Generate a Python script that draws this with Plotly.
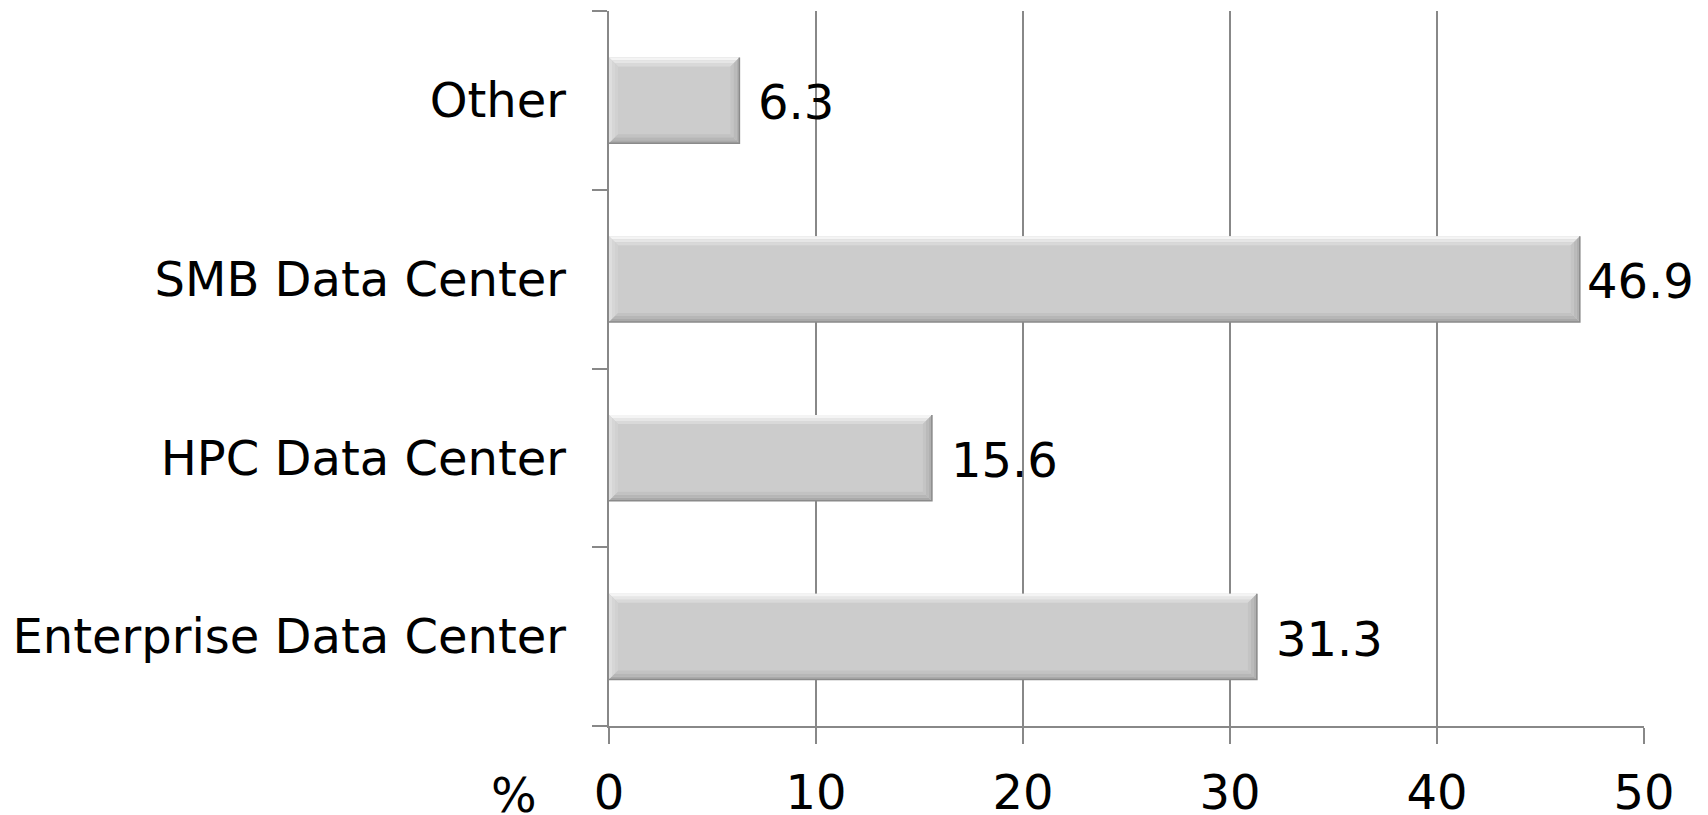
import plotly.graph_objects as go

# Data
categories = ["Enterprise Data Center", "HPC Data Center", "SMB Data Center", "Other"]
values = [31.3, 15.6, 46.9, 6.3]
x_ticks = [0, 10, 20, 30, 40, 50]

# Layout constants
W, H = 1708, 815
M_L, M_R, M_T, M_B = 609, 64, 11, 89
X_MAX = 50
BAR_W = 0.48
FONT = "DejaVu Sans, Verdana, sans-serif"
FSIZE = 48
GRID = "#888888"

plot_w = W - M_L - M_R
plot_h = H - M_T - M_B
px_x = plot_w / X_MAX            # pixels per x unit
px_y = plot_h / len(categories)  # pixels per category band

idx = list(range(len(categories)))

fig = go.Figure()
fig.add_trace(go.Bar(
    x=values, y=idx, orientation="h", width=BAR_W,
    marker=dict(color="#cccccc", line=dict(width=0)),
    hoverinfo="skip", showlegend=False,
))


def bevel_faces(x0, x1, y0, y1, d_out, d_in, cols):
    """Trapezoid band between an outer inset d_out and inner inset d_in (pixels)."""
    ox, oy = d_out / px_x, d_out / px_y
    ix, iy = d_in / px_x, d_in / px_y
    top, left, bottom, right = cols
    return [
        (f"M {x0+ox},{y1-oy} L {x1-ox},{y1-oy} L {x1-ix},{y1-iy} L {x0+ix},{y1-iy} Z", top),
        (f"M {x0+ox},{y0+oy} L {x0+ox},{y1-oy} L {x0+ix},{y1-iy} L {x0+ix},{y0+iy} Z", left),
        (f"M {x0+ox},{y0+oy} L {x1-ox},{y0+oy} L {x1-ix},{y0+iy} L {x0+ix},{y0+iy} Z", bottom),
        (f"M {x1-ox},{y0+oy} L {x1-ox},{y1-oy} L {x1-ix},{y1-iy} L {x1-ix},{y0+iy} Z", right),
    ]


# Bevelled edges for each bar, derived from its value and index
shapes = []
for i, v in zip(idx, values):
    y0, y1 = i - BAR_W / 2, i + BAR_W / 2
    x0, x1 = 0, v
    faces = (
        bevel_faces(x0, x1, y0, y1, 0, 3, ("#f4f4f4", "#dedede", "#a9a9a9", "#b0b0b0"))
        + bevel_faces(x0, x1, y0, y1, 3, 6, ("#e6e6e6", "#d6d6d6", "#b6b6b6", "#bababa"))
        + bevel_faces(x0, x1, y0, y1, 6, 9, ("#d9d9d9", "#d1d1d1", "#c2c2c2", "#c4c4c4"))
    )
    for path, col in faces:
        shapes.append(dict(type="path", path=path, xref="x", yref="y",
                           fillcolor=col, line=dict(width=0), layer="above"))
    # dark rim on the right and bottom sides
    shapes.append(dict(type="path", path=f"M {x0},{y0} L {x1},{y0} L {x1},{y1}",
                       xref="x", yref="y", line=dict(color="#8a8a8a", width=1.5),
                       layer="above"))

# Value labels at the end of each bar
annotations = []
for i, v in zip(idx, values):
    shift = 5 if v > 0.9 * X_MAX else 17
    annotations.append(dict(
        x=v, y=i, xref="x", yref="y", text=f"{v:.1f}", showarrow=False,
        xanchor="left", yanchor="middle", xshift=shift, yshift=-2,
        font=dict(family=FONT, size=FSIZE, color="#000000"),
    ))
# Unit label beside the x axis
annotations.append(dict(
    x=(514 - M_L) / plot_w, y=-(795 - (H - M_B)) / plot_h,
    xref="paper", yref="paper", text="%", showarrow=False,
    xanchor="center", yanchor="middle",
    font=dict(family=FONT, size=FSIZE, color="#000000"),
))

fig.update_layout(
    template="none",
    width=W, height=H,
    margin=dict(l=M_L, r=M_R, t=M_T, b=M_B, pad=0),
    paper_bgcolor="white", plot_bgcolor="white",
    font=dict(family=FONT, size=FSIZE, color="#000000"),
    shapes=shapes, annotations=annotations,
    xaxis=dict(
        range=[0, X_MAX], tickvals=x_ticks, ticktext=[str(t) for t in x_ticks],
        showgrid=True, gridcolor=GRID, gridwidth=2,
        showline=True, linecolor=GRID, linewidth=2,
        ticks="outside", ticklen=16, tickwidth=2, tickcolor=GRID,
        ticklabelstandoff=7, zeroline=False, fixedrange=True, automargin=False,
    ),
    yaxis=dict(
        range=[-0.5, len(categories) - 0.5],
        tickvals=[i - 0.5 for i in range(len(categories) + 1)],
        ticktext=[""] * (len(categories) + 1),
        showgrid=False, zeroline=False,
        showline=True, linecolor=GRID, linewidth=2,
        ticks="outside", ticklen=15, tickwidth=2, tickcolor=GRID,
        fixedrange=True, automargin=False,
    ),
    yaxis2=dict(
        overlaying="y", side="left", anchor="x",
        range=[-0.5, len(categories) - 0.5],
        tickvals=idx, ticktext=categories,
        showgrid=False, zeroline=False, showline=False, ticks="",
        ticklabelstandoff=42, fixedrange=True, automargin=False,
        tickfont=dict(family=FONT, size=FSIZE, color="#000000"),
    ),
)

# invisible trace so the label axis is drawn
fig.add_trace(go.Scatter(x=[None], y=[None], yaxis="y2", showlegend=False,
                         hoverinfo="skip"))

fig.write_html("out.html")
